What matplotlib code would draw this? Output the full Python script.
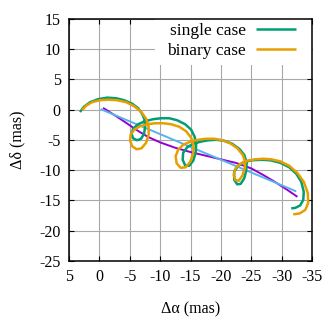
import matplotlib
matplotlib.use('Agg')
import matplotlib.pyplot as plt
from matplotlib.patches import Rectangle

plt.rcParams['font.family'] = ['Liberation Serif', 'DejaVu Serif']
plt.rcParams['axes.unicode_minus'] = False

# single case (proper motion + parallax)
single_x = [3.19, 2.52, 1.53, 0.21, -1.27, -2.75, -4.07, -5.39, -6.38, -7.03,
            -7.45, -7.53, -7.36, -6.87, -6.21, -5.55, -5.30, -5.55, -6.38, -7.53,
            -8.85, -10.17, -11.49, -12.80, -14.12, -15.11, -15.68, -15.93, -15.85, -15.44,
            -14.78, -14.12, -13.71, -13.79, -14.45, -15.44, -16.59, -17.91, -19.23, -20.54,
            -21.86, -23.01, -23.84, -24.25, -24.17, -23.84, -23.26, -22.69, -22.19, -22.19,
            -22.85, -23.84, -25.16, -26.64, -28.13, -29.77, -31.26, -32.41, -33.24, -33.64,
            -33.56, -33.06, -32.24, -31.58]
single_y = [-0.38, 0.50, 1.24, 1.74, 1.99, 1.90, 1.57, 0.99, 0.25, -0.66,
            -1.66, -2.81, -3.97, -4.80, -5.05, -4.72, -3.97, -3.15, -2.40, -1.90,
            -1.57, -1.41, -1.41, -1.74, -2.40, -3.31, -4.47, -5.79, -7.12, -8.44,
            -9.27, -9.19, -8.28, -7.12, -6.21, -5.63, -5.30, -5.05, -4.97, -5.13,
            -5.63, -6.46, -7.45, -8.77, -10.10, -11.34, -12.25, -12.33, -11.59, -10.26,
            -9.27, -8.61, -8.36, -8.28, -8.36, -8.77, -9.52, -10.60, -11.92, -13.58,
            -14.90, -15.81, -16.23, -16.31]

# binary case
binary_x = [2.85, 2.19, 1.20, -0.12, -1.43, -2.92, -4.40, -5.72, -6.87, -7.69,
            -8.11, -8.11, -7.69, -6.95, -6.13, -5.39, -5.06, -5.14, -5.72, -6.71,
            -7.86, -9.18, -10.50, -11.81, -13.13, -14.28, -15.11, -15.52, -15.44, -14.94,
            -14.20, -13.38, -12.72, -12.55, -12.97, -13.79, -14.94, -16.26, -17.58, -18.90,
            -20.21, -21.53, -22.69, -23.59, -24.00, -23.92, -23.51, -22.93, -22.36, -22.11,
            -22.36, -23.18, -24.33, -25.65, -26.97, -28.29, -29.77, -31.26, -32.57, -33.64,
            -34.30, -34.38, -33.89, -32.98, -31.91]
binary_y = [-0.08, 0.66, 1.24, 1.57, 1.66, 1.57, 1.24, 0.58, -0.33, -1.49,
            -2.81, -4.14, -5.46, -6.37, -6.54, -6.04, -5.13, -4.14, -3.31, -2.73,
            -2.40, -2.24, -2.24, -2.40, -2.81, -3.56, -4.64, -5.96, -7.28, -8.61,
            -9.52, -9.60, -8.86, -7.70, -6.62, -5.79, -5.30, -4.97, -4.80, -4.80,
            -5.05, -5.55, -6.37, -7.45, -8.61, -9.77, -10.93, -11.75, -11.59, -10.76,
            -9.77, -8.94, -8.44, -8.20, -8.11, -8.20, -8.53, -9.27, -10.43, -11.92,
            -13.74, -15.40, -16.56, -17.14, -17.30]

# photocentre track of the binary (purple) and plain proper motion (light blue)
orbit_x = [-0.6, -2.5, -4.3, -6.2, -8.0, -10.0, -12.5, -15.0, -17.5, -20.0,
           -22.5, -25.0, -27.0, -29.0, -31.0, -32.6]
orbit_y = [0.3, -0.9, -2.1, -3.4, -4.5, -5.4, -6.3, -7.0, -7.6, -8.2,
           -8.8, -9.7, -10.8, -12.0, -13.3, -14.4]
pm_x = [-0.2, -32.4]
pm_y = [0.1, -13.5]

xticks = [5, 0, -5, -10, -15, -20, -25, -30, -35]
yticks = [15, 10, 5, 0, -5, -10, -15, -20, -25]

fig = plt.figure(figsize=(3.23, 3.21), dpi=100)
ax = fig.add_axes([0.2136, 0.187, 0.7524, 0.754])

kw = dict(solid_joinstyle='round', solid_capstyle='butt')
ax.plot(orbit_x, orbit_y, color='#9400d3', lw=1.4, zorder=3, **kw)
ax.plot(pm_x, pm_y, color='#56b4e9', lw=1.4, zorder=3, **kw)
ax.plot(single_x, single_y, color='#009e73', lw=1.8, label='single case', zorder=4, **kw)
ax.plot(binary_x, binary_y, color='#e69f00', lw=1.8, label='binary case', zorder=5, **kw)

ax.set_xlim(5, -35)
ax.set_ylim(-25, 15)
ax.set_xticks(xticks)
ax.set_yticks(yticks)
ax.set_xticklabels([str(v) for v in xticks])
ax.set_yticklabels([str(v) for v in yticks])
ax.tick_params(direction='in', length=3.5, width=0.8, top=True, right=True,
               labelsize=11.5, pad=6)
ax.grid(True, color='#a8a8a8', lw=0.8)
ax.set_axisbelow(True)
for s in ax.spines.values():
    s.set_linewidth(1.1)
    s.set_zorder(12)

ax.set_xlabel('Δα (mas)', fontsize=11.5)
ax.set_ylabel('Δδ (mas)', fontsize=11.5)
ax.xaxis.set_label_coords(0.5, -0.165)
ax.yaxis.set_label_coords(-0.18, 0.5)

# white key box hides the grid behind the legend
ax.add_patch(Rectangle((0.354, 0.81), 0.646, 0.19, transform=ax.transAxes,
                       facecolor='white', edgecolor='none', zorder=9))
leg = ax.legend(loc='upper right', bbox_to_anchor=(0.95, 1.0), markerfirst=False,
                frameon=False, fontsize=12.5, handlelength=2.3, borderaxespad=0,
                borderpad=0.25, labelspacing=0.2, handletextpad=0.55)
leg.set_zorder(10)

fig.savefig('out.png', dpi=100)
